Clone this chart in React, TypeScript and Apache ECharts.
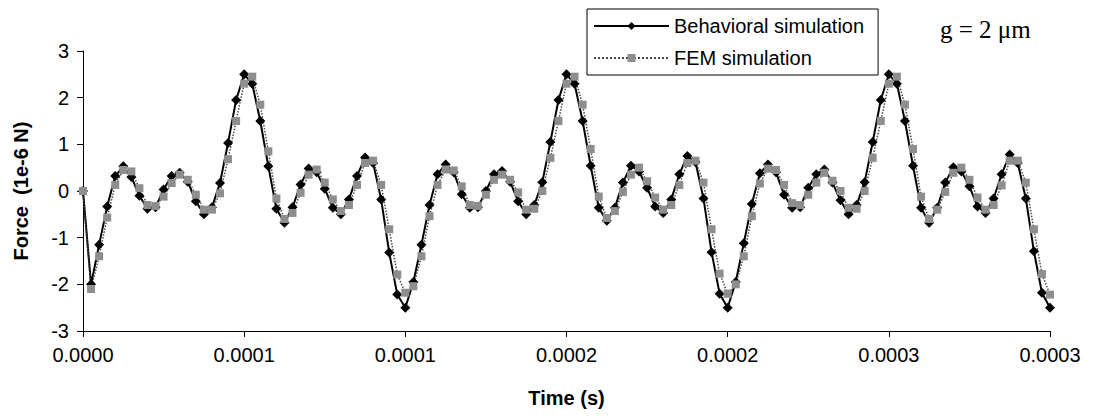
import React, { useEffect, useRef } from "react";
import * as echarts from "echarts";

// sample times in microseconds
const timeUs = [
  0, 2.5, 5, 7.5, 10, 12.5, 15, 17.5, 20, 22.5, 25, 27.5, 30, 32.5, 35, 37.5, 40, 42.5, 45, 47.5,
  50, 52.5, 55, 57.5, 60, 62.5, 65, 67.5, 70, 72.5, 75, 77.5, 80, 82.5, 85, 87.5, 90, 92.5, 95, 97.5,
  100, 102.5, 105, 107.5, 110, 112.5, 115, 117.5, 120, 122.5, 125, 127.5, 130, 132.5, 135, 137.5, 140, 142.5, 145, 147.5,
  150, 152.5, 155, 157.5, 160, 162.5, 165, 167.5, 170, 172.5, 175, 177.5, 180, 182.5, 185, 187.5, 190, 192.5, 195, 197.5,
  200, 202.5, 205, 207.5, 210, 212.5, 215, 217.5, 220, 222.5, 225, 227.5, 230, 232.5, 235, 237.5, 240, 242.5, 245, 247.5,
  250, 252.5, 255, 257.5, 260, 262.5, 265, 267.5, 270, 272.5, 275, 277.5, 280, 282.5, 285, 287.5, 290, 292.5, 295, 297.5,
  300,
];

const behavioral = [
  0, -2.0, -1.15, -0.33, 0.32, 0.53, 0.3, -0.1, -0.38, -0.35, 0.03, 0.32, 0.39, 0.2, -0.22, -0.5, -0.35, 0.17, 1.03, 1.95,
  2.5, 2.3, 1.5, 0.53, -0.38, -0.68, -0.35, 0.14, 0.48, 0.4, 0.05, -0.36, -0.5, -0.18, 0.32, 0.72, 0.6, -0.18, -1.32, -2.22,
  -2.5, -1.95, -1.15, -0.3, 0.36, 0.57, 0.4, -0.07, -0.36, -0.35, 0.0, 0.36, 0.43, 0.2, -0.22, -0.5, -0.3, 0.19, 1.05, 1.95,
  2.5, 2.3, 1.5, 0.54, -0.36, -0.64, -0.36, 0.18, 0.54, 0.42, 0.07, -0.33, -0.47, -0.18, 0.36, 0.75, 0.62, -0.16, -1.31, -2.2,
  -2.5, -1.95, -1.12, -0.28, 0.38, 0.57, 0.4, -0.08, -0.36, -0.35, 0.07, 0.36, 0.46, 0.18, -0.2, -0.5, -0.3, 0.19, 1.05, 1.95,
  2.5, 2.3, 1.5, 0.54, -0.36, -0.68, -0.36, 0.18, 0.51, 0.42, 0.1, -0.33, -0.47, -0.16, 0.36, 0.78, 0.6, -0.16, -1.29, -2.18,
  -2.5,
];

const fem = [
  0, -2.1, -1.4, -0.57, 0.13, 0.45, 0.42, 0.06, -0.3, -0.32, -0.12, 0.17, 0.35, 0.24, -0.08, -0.4, -0.4, -0.05, 0.68, 1.5,
  2.3, 2.45, 1.85, 0.85, -0.16, -0.6, -0.47, -0.04, 0.35, 0.46, 0.18, -0.18, -0.43, -0.3, 0.13, 0.6, 0.65, 0.13, -0.82, -1.79,
  -2.18, -2.04, -1.4, -0.54, 0.13, 0.46, 0.44, 0.1, -0.3, -0.32, -0.08, 0.24, 0.35, 0.24, -0.03, -0.4, -0.38, 0.0, 0.71, 1.5,
  2.3, 2.45, 1.85, 0.9, -0.12, -0.58, -0.43, -0.02, 0.35, 0.5, 0.21, -0.14, -0.4, -0.3, 0.13, 0.6, 0.65, 0.18, -0.82, -1.77,
  -2.2, -2.0, -1.4, -0.54, 0.16, 0.48, 0.45, 0.13, -0.26, -0.3, -0.08, 0.18, 0.39, 0.22, 0.0, -0.36, -0.38, 0.0, 0.71, 1.5,
  2.3, 2.45, 1.85, 0.9, -0.12, -0.6, -0.4, -0.02, 0.39, 0.5, 0.24, -0.14, -0.4, -0.3, 0.12, 0.65, 0.65, 0.18, -0.82, -1.78,
  -2.22,
];

const xTickLabels = ["0.0000", "0.0001", "0.0001", "0.0002", "0.0002", "0.0003", "0.0003"];
const seriesNames = ["Behavioral simulation", "FEM simulation"];

export default function App() {
  const ref = useRef<HTMLDivElement>(null);
  useEffect(() => {
    const chart = echarts.init(ref.current!, null, { renderer: "svg" });
    const toPairs = (vals: number[]) => vals.map((v, i) => [timeUs[i] / 1e6, v]);
    chart.setOption({
      animation: false,
      backgroundColor: "#fff",
      textStyle: { fontFamily: "Liberation Sans" },
      grid: { left: 83, right: 45, top: 51, bottom: 89 },
      xAxis: {
        type: "value",
        min: 0,
        max: 0.0003,
        interval: 0.00005,
        name: "Time (s)",
        nameLocation: "middle",
        nameGap: 57,
        nameTextStyle: { fontSize: 20, fontWeight: "bold", color: "#000" },
        axisLine: { onZero: false, lineStyle: { color: "#000", width: 1 } },
        axisTick: { show: true, length: 6, lineStyle: { color: "#000" } },
        axisLabel: {
          fontSize: 20,
          color: "#000",
          margin: 14,
          formatter: (v: number) => xTickLabels[Math.round(v / 0.00005)] ?? "",
        },
        splitLine: { show: false },
      },
      yAxis: {
        type: "value",
        min: -3,
        max: 3,
        interval: 1,
        name: "Force  (1e-6 N)",
        nameLocation: "middle",
        nameGap: 52,
        nameRotate: 90,
        nameTextStyle: { fontSize: 20, fontWeight: "bold", color: "#000" },
        axisLine: { show: true, onZero: false, lineStyle: { color: "#000", width: 1 } },
        axisTick: { show: true, length: 6, lineStyle: { color: "#000" } },
        axisLabel: { fontSize: 20, color: "#000", margin: 14 },
        splitLine: { show: false },
      },
      legend: {
        orient: "vertical",
        left: 587,
        top: 9,
        padding: [7, 14, 7, 6],
        itemGap: 12,
        itemWidth: 75,
        itemHeight: 10,
        borderColor: "#000",
        borderWidth: 1,
        backgroundColor: "#fff",
        textStyle: { fontSize: 20, color: "#000" },
        data: seriesNames,
      },
      graphic: [
        {
          type: "text",
          left: 940,
          top: 17,
          style: { text: "g = 2 μm", font: '25px "Liberation Serif"', fill: "#000" },
        },
      ],
      series: [
        {
          name: seriesNames[0],
          type: "line",
          data: toPairs(behavioral),
          symbol: "diamond",
          symbolSize: 10,
          itemStyle: { color: "#000" },
          lineStyle: { color: "#000", width: 2 },
          clip: false,
        },
        {
          name: seriesNames[1],
          type: "line",
          data: toPairs(fem),
          symbol: "rect",
          symbolSize: 8,
          itemStyle: { color: "#8e8e8e" },
          lineStyle: { color: "#444", width: 1.5, type: "dotted" },
          clip: false,
        },
      ],
    });
    return () => chart.dispose();
  }, []);
  return (
    <div
      ref={ref}
      style={{ position: "fixed", left: 0, top: 0, width: 1095, height: 420 }}
    />
  );
}
